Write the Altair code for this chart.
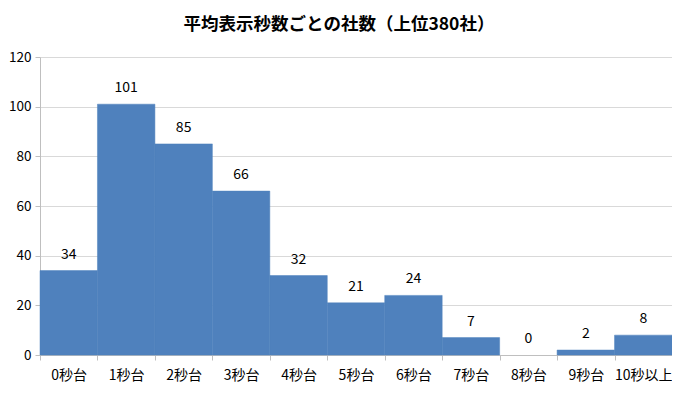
import altair as alt
import pandas as pd

categories = ["0秒台", "1秒台", "2秒台", "3秒台", "4秒台", "5秒台", "6秒台", "7秒台", "8秒台", "9秒台", "10秒以上"]
counts = [34, 101, 85, 66, 32, 21, 24, 7, 0, 2, 8]
title_text = "平均表示秒数ごとの社数（上位380社）"
y_ticks = [0, 20, 40, 60, 80, 100, 120]

df = pd.DataFrame({"cat": categories, "count": counts})
FONT = "Noto Sans CJK JP"

x_enc = alt.X("cat:N", sort=categories, title=None,
              scale=alt.Scale(paddingInner=0, paddingOuter=0),
              axis=alt.Axis(labelAngle=0, tickBand="extent", domainColor="#BFBFBF",
                            tickColor="#BFBFBF", tickSize=5, labelPadding=8,
                            labelFontSize=14, labelColor="#000000", labelFont=FONT))
y_enc = alt.Y("count:Q", title=None,
              scale=alt.Scale(domain=[0, 120]),
              axis=alt.Axis(values=y_ticks, domainColor="#BFBFBF", tickColor="#BFBFBF",
                            tickSize=5, labelPadding=4, gridColor="#D9D9D9",
                            labelFontSize=13.5, labelColor="#000000", labelFont=FONT))

bars = alt.Chart(df).mark_bar(color="#4F81BD", stroke="#4F81BD", strokeWidth=0.5).encode(
    x=x_enc, y=y_enc,
    strokeOpacity=alt.condition("datum.count > 0", alt.value(1), alt.value(0)))
labels = alt.Chart(df).mark_text(baseline="bottom", dy=-9, fontSize=14, font=FONT,
                                 color="#000000").encode(
    x=alt.X("cat:N", sort=categories), y=alt.Y("count:Q"), text="count:Q")

chart = alt.layer(bars, labels).properties(
    width=632, height=298,
    autosize=alt.AutoSizeParams(type="none"),
    title=alt.TitleParams(title_text, fontSize=17.5, fontWeight="bold", font=FONT,
                          color="#000000", anchor="middle", offset=17, dx=-17),
    padding={"left": 32, "top": 49, "right": 0, "bottom": 34},
).configure_view(stroke=None)

chart.save("out.html", embed_options={"renderer": "svg", "actions": False})
